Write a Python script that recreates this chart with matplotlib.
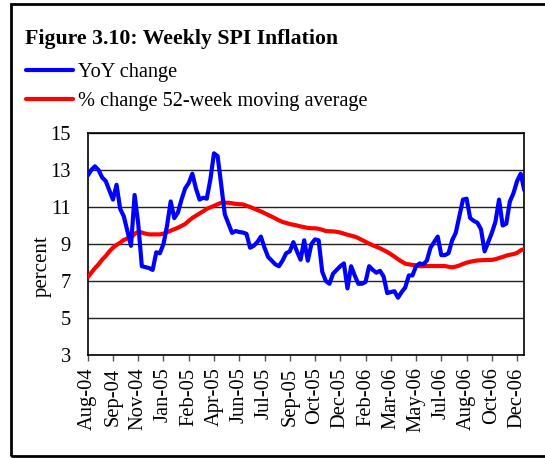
import matplotlib
matplotlib.use('Agg')
import matplotlib.pyplot as plt
from matplotlib.patches import Rectangle

plt.rcParams['font.family'] = ['Liberation Serif', 'DejaVu Serif']

# Weekly data, Aug-04 .. Dec-06
yoy_change = [
    12.7, 13.0, 13.2, 13.0, 12.6, 12.4, 11.9, 11.4, 12.2, 10.9,
    10.5, 9.7, 8.9, 11.65, 10.1, 7.8, 7.75, 7.7, 7.6, 8.55,
    8.5, 9.0, 10.0, 11.3, 10.4, 10.7, 11.4, 12.0, 12.3, 12.8,
    12.0, 11.4, 11.5, 11.45, 12.5, 13.9, 13.75, 12.2, 10.6, 10.1,
    9.6, 9.7, 9.65, 9.62, 9.55, 8.8, 8.9, 9.1, 9.4, 8.8,
    8.3, 8.1, 7.9, 7.8, 8.1, 8.5, 8.6, 9.1, 8.6, 8.15,
    9.2, 8.1, 9.0, 9.25, 9.2, 7.5, 7.0, 6.85, 7.4, 7.6,
    7.8, 7.95, 6.6, 7.8, 7.3, 6.85, 6.85, 6.95, 7.8, 7.6,
    7.45, 7.55, 7.25, 6.35, 6.4, 6.45, 6.1, 6.4, 6.65, 7.3,
    7.3, 7.8, 7.95, 7.9, 8.1, 8.8, 9.1, 9.4, 8.4, 8.4,
    8.5, 9.2, 9.6, 10.5, 11.4, 11.45, 10.4, 10.25, 10.15, 9.8,
    8.6, 9.1, 9.6, 10.2, 11.4, 10.0, 10.1, 11.3, 11.75, 12.4,
    12.8, 11.9,
]

moving_avg = [
    7.2, 7.45, 7.69, 7.9, 8.15, 8.35, 8.6, 8.8, 8.95, 9.07,
    9.22, 9.3, 9.35, 9.55, 9.66, 9.62, 9.56, 9.52, 9.52, 9.52,
    9.52, 9.56, 9.64, 9.72, 9.8, 9.88, 9.98, 10.08, 10.25, 10.41,
    10.53, 10.65, 10.77, 10.9, 10.98, 11.06, 11.15, 11.23, 11.23, 11.23,
    11.2, 11.17, 11.15, 11.14, 11.07, 11.0, 10.92, 10.84, 10.76, 10.67,
    10.57, 10.48, 10.38, 10.28, 10.19, 10.14, 10.08, 10.04, 10.0, 9.95,
    9.91, 9.87, 9.85, 9.85, 9.82, 9.77, 9.7, 9.69, 9.68, 9.66,
    9.62, 9.56, 9.5, 9.45, 9.4, 9.32, 9.22, 9.12, 9.02, 8.93,
    8.85, 8.77, 8.67, 8.57, 8.45, 8.32, 8.18, 8.05, 7.94, 7.9,
    7.87, 7.85, 7.8, 7.8, 7.81, 7.81, 7.81, 7.81, 7.81, 7.81,
    7.77, 7.74, 7.78, 7.84, 7.92, 7.99, 8.04, 8.08, 8.11, 8.12,
    8.13, 8.14, 8.14, 8.18, 8.24, 8.3, 8.37, 8.42, 8.45, 8.52,
    8.66, 8.73,
]

tick_labels = ['Aug-04', 'Sep-04', 'Nov-04', 'Jan-05', 'Feb-05', 'Apr-05',
               'Jun-05', 'Jul-05', 'Sep-05', 'Oct-05', 'Dec-05', 'Feb-06',
               'Mar-06', 'May-06', 'Jul-06', 'Aug-06', 'Oct-06', 'Dec-06']
tick_step = 7

weeks = list(range(len(yoy_change)))

W, H = 545, 458
fig = plt.figure(figsize=(W / 100, H / 100), dpi=100)
ax = fig.add_axes([87.7 / W, 1 - 355 / H, (524.3 - 87.7) / W, (355 - 133) / H])

ax.plot(weeks, moving_avg, color='#ff0000', lw=3, solid_capstyle='round',
        label='% change 52-week moving average', zorder=3)
ax.plot(weeks, yoy_change, color='#0000ff', lw=3, solid_capstyle='round',
        label='YoY change', zorder=4)

ax.set_xlim(0, len(weeks) - 1)
ax.set_ylim(3, 15)
ax.set_yticks(range(3, 16, 2))
ax.set_xticks([i * tick_step for i in range(len(tick_labels))])
ax.set_xticklabels(tick_labels, rotation=90, fontsize=14.8)
ax.tick_params(axis='y', length=0, pad=12, labelsize=14.8)
ax.tick_params(axis='x', length=4, width=1, color='#555555', pad=5)
ax.grid(True, axis='y', color='#222222', lw=1)
for s in ax.spines.values():
    s.set_linewidth(1.2)
    s.set_color('black')

fig.text(42 / W, 1 - 266 / H, 'percent', rotation=90, fontsize=15,
         ha='center', va='center')

fig.text(25 / W, 1 - 39 / H, 'Figure 3.10: Weekly SPI Inflation',
         fontsize=15.7, fontweight='bold', ha='left', va='center')

handles, labels = ax.get_legend_handles_labels()
fig.legend(handles[::-1], labels[::-1], loc='upper left',
           bbox_to_anchor=(26 / W, 1 - 63 / H), frameon=False, fontsize=14.6,
           handlelength=2.3, handletextpad=0.25, labelspacing=0.48,
           borderaxespad=0, borderpad=0)

fig.add_artist(Rectangle((10.5 / W, 1 - 456 / H), 1.0, (456 - 4) / H,
                         transform=fig.transFigure, fill=False,
                         edgecolor='black', lw=2, clip_on=False))

fig.savefig('out.png', dpi=100)
